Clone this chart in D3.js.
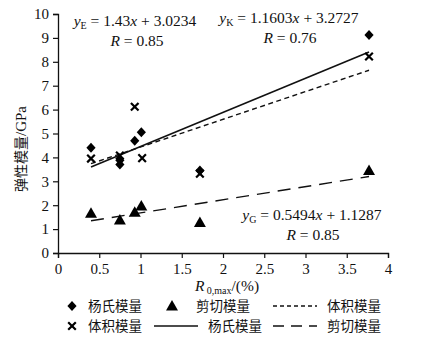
<!DOCTYPE html>
<html>
<head>
<meta charset="utf-8">
<script src="https://cdn.jsdelivr.net/npm/d3@7"></script>
<style>
  body { margin: 0; background: #fff; }
  text { font-family: "Liberation Serif", "Noto Sans CJK SC", serif; fill: #111; }
  .cn { font-family: "Noto Sans CJK SC", sans-serif; }
</style>
</head>
<body>
<div id="chart"></div>
<script>
// données
const youngX = [0.40, 0.75, 0.75, 0.93, 1.01, 1.72, 3.77];
const youngY = [4.40, 3.88, 3.70, 4.70, 5.05, 3.45, 9.12];
const bulkX = [0.40, 0.75, 0.93, 1.02, 1.72, 3.77];
const bulkY = [3.95, 4.08, 6.12, 3.97, 3.32, 8.22];
const shearX = [0.40, 0.75, 0.93, 1.01, 1.72, 3.77];
const shearY = [1.66, 1.38, 1.70, 1.97, 1.28, 3.45];

// droites de tendance : [pente, ordonnée]
const fitYoung = ["1.43", "3.0234"];
const fitBulk = ["1.1603", "3.2727"];
const fitShear = ["0.5494", "1.1287"];
const fitRange = [0.40, 3.77];

const xTicks = [0, 0.5, 1, 1.5, 2, 2.5, 3, 3.5, 4];
const yTicks = [0, 1, 2, 3, 4, 5, 6, 7, 8, 9, 10];

const width = 436, height = 344;
const margin = { top: 14, right: 48, bottom: 91, left: 58 };

const svg = d3.select("#chart").append("svg")
    .attr("width", width)
    .attr("height", height);

const x = d3.scaleLinear().domain([0, 4]).range([margin.left, width - margin.right]);
const y = d3.scaleLinear().domain([0, 10]).range([height - margin.bottom, margin.top]);

// axes
const gx = svg.append("g")
    .attr("transform", `translate(0,${y(0)})`)
    .call(d3.axisBottom(x).tickValues(xTicks).tickSize(5).tickPadding(5)
        .tickFormat(d => d));
const gy = svg.append("g")
    .attr("transform", `translate(${x(0)},0)`)
    .call(d3.axisLeft(y).tickValues(yTicks).tickSize(5).tickPadding(4));
[gx, gy].forEach(g => {
    g.select(".domain").attr("stroke", "#111").attr("stroke-width", 1.3);
    g.selectAll(".tick line").attr("stroke", "#111").attr("stroke-width", 1.2);
    g.selectAll(".tick text")
        .style("font-family", "Liberation Serif")
        .style("font-size", "15px")
        .attr("fill", "#222");
});

// droites
const line = d3.line().x(d => x(d[0])).y(d => y(d[1]));
function fitLine(fit, dash, w) {
    svg.append("path")
        .datum(fitRange.map(v => [v, +fit[0] * v + +fit[1]]))
        .attr("d", line)
        .attr("fill", "none")
        .attr("stroke", "#111")
        .attr("stroke-width", w)
        .attr("stroke-dasharray", dash);
}
fitLine(fitYoung, null, 1.6);
fitLine(fitBulk, "5,3.5", 1.4);
fitLine(fitShear, "13,8", 1.4);

// marqueurs
const diamond = "M0,-5L4.6,0L0,5L-4.6,0Z";
const triangle = "M0,-6L6,4.5L-6,4.5Z";
const cross = "M-3.8,-3.8L3.8,3.8M-3.8,3.8L3.8,-3.8";

function markers(xs, ys, shape, isCross) {
    svg.append("g").selectAll("path")
        .data(xs.map((v, i) => [v, ys[i]]))
        .join("path")
        .attr("transform", d => `translate(${x(d[0])},${y(d[1])})`)
        .attr("d", shape)
        .attr("fill", isCross ? "none" : "#000")
        .attr("stroke", isCross ? "#000" : "none")
        .attr("stroke-width", isCross ? 2.2 : 0);
}
markers(shearX, shearY, triangle, false);
markers(youngX, youngY, diamond, false);
markers(bulkX, bulkY, cross, true);

// équations
function equation(cx, cy, sub, fit) {
    const t = svg.append("text").attr("x", cx).attr("y", cy)
        .attr("text-anchor", "middle").style("font-size", "15.5px");
    t.append("tspan").style("font-style", "italic").text("y");
    t.append("tspan").attr("dy", 3).style("font-size", "10px").text(sub);
    t.append("tspan").attr("dy", -3).text(` = ${fit[0]}`);
    t.append("tspan").style("font-style", "italic").text("x");
    t.append("tspan").text(`  + ${fit[1]}`);
}
function rLabel(cx, cy, r) {
    const t = svg.append("text").attr("x", cx).attr("y", cy)
        .attr("text-anchor", "middle").style("font-size", "15.5px");
    t.append("tspan").style("font-style", "italic").text("R");
    t.append("tspan").text(` = ${r}`);
}
equation(135, 26, "E", fitYoung);
rLabel(137, 46, "0.85");
equation(289, 23, "K", fitBulk);
rLabel(290, 43, "0.76");
equation(312, 220, "G", fitShear);
rLabel(313, 240, "0.85");

// titres des axes
const xt = svg.append("text").attr("x", 227).attr("y", 291)
    .attr("text-anchor", "middle").style("font-size", "15.5px");
xt.append("tspan").style("font-style", "italic").text("R");
xt.append("tspan").attr("dy", 3).style("font-size", "10px").text(" 0,max");
xt.append("tspan").attr("dy", -3).text("/(%)");

svg.append("text")
    .attr("transform", "translate(26,149) rotate(-90)")
    .attr("text-anchor", "middle")
    .style("font-size", "15px")
    .attr("fill", "#333")
    .html('<tspan class="cn" style="font-size:14px">弹性模量</tspan>/GPa');

// légende
const legend = [
    { kind: "diamond", label: "杨氏模量", x: 72, y: 306 },
    { kind: "triangle", label: "剪切模量", x: 172, y: 306 },
    { kind: "short", label: "体积模量", x: 295, y: 306 },
    { kind: "cross", label: "体积模量", x: 72, y: 326 },
    { kind: "solid", label: "杨氏模量", x: 176, y: 326 },
    { kind: "long", label: "剪切模量", x: 295, y: 326 }
];
legend.forEach(l => {
    const g = svg.append("g").attr("transform", `translate(${l.x},${l.y})`);
    let tx = 16;
    if (l.kind === "diamond") g.append("path").attr("d", diamond).attr("fill", "#000");
    if (l.kind === "triangle") g.append("path").attr("d", triangle).attr("fill", "#000");
    if (l.kind === "cross") g.append("path").attr("d", cross).attr("stroke", "#000").attr("stroke-width", 2.2);
    if (["short", "solid", "long"].includes(l.kind)) {
        g.append("line").attr("x1", -22).attr("x2", 22)
            .attr("stroke", "#111").attr("stroke-width", 1.4)
            .attr("stroke-dasharray", l.kind === "short" ? "4,3" : l.kind === "long" ? "11,7" : null);
        tx = 32;
    }
    if (l.kind === "triangle") tx = 24;
    g.append("text").attr("class", "cn").attr("x", tx).attr("y", 5)
        .style("font-size", "13.5px").attr("fill", "#444").text(l.label);
});
</script>
</body>
</html>
